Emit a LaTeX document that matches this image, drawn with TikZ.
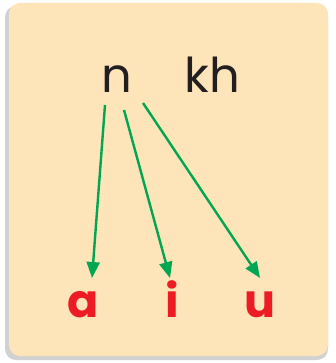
\documentclass[tikz,border=0pt]{standalone}
\usepackage{fontspec}
\setmainfont{Poppins}
\newfontfamily\boldpop{Poppins Bold}
\usetikzlibrary{arrows.meta}
\definecolor{peach}{RGB}{253,228,185}
\definecolor{arrgreen}{RGB}{0,166,81}
\definecolor{letred}{RGB}{237,28,36}
\definecolor{inkblk}{RGB}{35,31,32}
\tikzset{
  consonant/.style={inner sep=0pt, anchor=base, text=inkblk, font=\fontsize{48}{48}\selectfont},
  vowel/.style={inner sep=0pt, anchor=base, text=letred, font=\boldpop\fontsize{46}{46}\selectfont},
  link/.style={draw=arrgreen, line width=2.4pt, -{Triangle[width=13pt,length=16pt]}}
}
\begin{document}
\begin{tikzpicture}[x=1pt,y=-1pt]
\useasboundingbox (0,0) rectangle (335,363);
\fill[white] (0,0) rectangle (335,363);
\fill[black!18, rounded corners=11pt] (5,6) rectangle (328,360);
\fill[peach, rounded corners=11pt] (9,3) rectangle (328,356);
\node[consonant] (n) at (117,93) {n};
\node[consonant] (kh) at (212,93) {kh};
\node[vowel] (a) at (83,317) {a};
\node[vowel] (i) at (172,317) {i};
\node[vowel] (u) at (260,317) {u};
\coordinate (s1) at (105,105);
\coordinate (s2) at (124,110);
\coordinate (s3) at (143,103);
\coordinate (e1) at (92,278);
\coordinate (e2) at (170,278);
\coordinate (e3) at (260,278);
\draw[link] (s1) -- (e1);
\draw[link] (s2) -- (e2);
\draw[link] (s3) -- (e3);
\end{tikzpicture}
\end{document}
